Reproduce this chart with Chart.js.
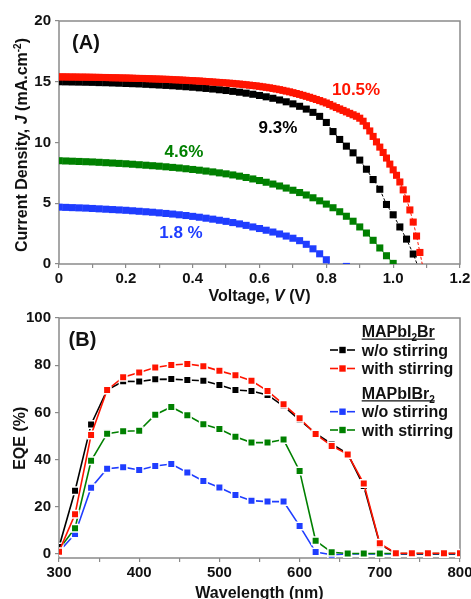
<!DOCTYPE html>
<html>
<head>
<meta charset="utf-8">
<script src="https://cdn.jsdelivr.net/npm/chart.js@4.4.1/dist/chart.umd.min.js"></script>
<style>
  html, body { margin: 0; padding: 0; background: #fff; overflow: hidden; }
  #jv { position: absolute; left: 0; top: 0; }
  #eqe { position: absolute; left: 0; top: 300px; }
</style>
</head>
<body>
<canvas id="jv" width="471" height="310"></canvas>
<canvas id="eqe" width="471" height="304"></canvas>
<script>
// ---- (A) J-V curves ----
const VOLTAGE = [0.00,0.02,0.04,0.06,0.08,0.10,0.12,0.14,0.16,0.18,0.20,0.22,0.24,0.26,0.28,0.30,0.32,0.34,0.36,0.38,
  0.40,0.42,0.44,0.46,0.48,0.50,0.52,0.54,0.56,0.58,0.60,0.62,0.64,0.66,0.68,0.70,0.72,0.74,0.76,0.78,
  0.80,0.82,0.84,0.86,0.88,0.90,0.92,0.94,0.96,0.98,1.00,1.02,1.04,1.06,1.08];
const VOLTAGE_FINE = [0.00,0.01,0.02,0.03,0.04,0.05,0.06,0.07,0.08,0.09,0.10,0.11,0.12,0.13,0.14,0.15,0.16,0.17,0.18,0.19,
  0.20,0.21,0.22,0.23,0.24,0.25,0.26,0.27,0.28,0.29,0.30,0.31,0.32,0.33,0.34,0.35,0.36,0.37,0.38,0.39,
  0.40,0.41,0.42,0.43,0.44,0.45,0.46,0.47,0.48,0.49,0.50,0.51,0.52,0.53,0.54,0.55,0.56,0.57,0.58,0.59,
  0.60,0.61,0.62,0.63,0.64,0.65,0.66,0.67,0.68,0.69,0.70,0.71,0.72,0.73,0.74,0.75,0.76,0.77,0.78,0.79,
  0.80,0.81,0.82,0.83,0.84,0.85,0.86,0.87,0.88,0.89,0.90,0.91,0.92,0.93,0.94,0.95,0.96,0.97,0.98,0.99,
  1.00,1.01,1.02,1.03,1.04,1.05,1.06,1.07,1.08,1.09];

// 10.5 % (red)
const J_RED = [15.40,15.40,15.40,15.39,15.39,15.39,15.38,15.38,15.38,15.37,
  15.37,15.36,15.36,15.35,15.35,15.34,15.33,15.33,15.32,15.31,
  15.31,15.30,15.29,15.28,15.27,15.27,15.26,15.25,15.24,15.23,
  15.22,15.21,15.20,15.19,15.17,15.16,15.15,15.13,15.12,15.10,
  15.09,15.07,15.06,15.04,15.02,15.00,14.98,14.96,14.94,14.92,
  14.90,14.88,14.86,14.83,14.81,14.78,14.75,14.72,14.69,14.66,
  14.62,14.58,14.54,14.50,14.45,14.40,14.35,14.29,14.23,14.17,
  14.10,14.03,13.96,13.88,13.80,13.72,13.63,13.54,13.45,13.35,
  13.25,13.13,13.00,12.88,12.76,12.64,12.52,12.40,12.28,12.16,
  12.00,11.75,11.38,10.95,10.50,10.05,9.62,9.18,8.72,8.22,
  7.75,7.30,6.75,6.10,5.35,4.45,3.45,2.30,0.95,-0.40];
// 9.3 % (black)
const J_BLACK = [15.00,14.99,14.98,14.97,14.96,14.95,14.93,14.92,14.90,14.88,
  14.86,14.84,14.82,14.79,14.76,14.73,14.70,14.67,14.63,14.59,
  14.55,14.50,14.45,14.40,14.34,14.28,14.21,14.14,14.06,13.97,
  13.87,13.76,13.64,13.50,13.35,13.18,12.98,12.75,12.48,12.15,
  11.65,10.90,10.25,9.70,9.15,8.55,7.80,6.95,6.15,4.90,
  4.05,3.05,2.05,0.82,-0.60];
// 4.6 % (green)
const J_GREEN = [8.50,8.48,8.46,8.44,8.42,8.40,8.37,8.34,8.31,8.28,
  8.25,8.21,8.17,8.13,8.09,8.05,8.00,7.95,7.90,7.84,
  7.78,7.72,7.65,7.58,7.50,7.42,7.33,7.23,7.12,7.00,
  6.87,6.73,6.58,6.42,6.25,6.07,5.88,5.68,5.45,5.20,
  4.93,4.63,4.30,3.93,3.52,3.05,2.55,1.95,1.32,0.68,0.05];
// 1.8 % (blue)
const J_BLUE = [4.68,4.66,4.64,4.62,4.60,4.57,4.54,4.51,4.48,4.45,
  4.42,4.38,4.34,4.30,4.26,4.21,4.16,4.11,4.05,3.99,
  3.92,3.85,3.77,3.69,3.60,3.51,3.41,3.30,3.18,3.05,
  2.92,2.78,2.63,2.47,2.30,2.12,1.92,1.62,1.25,0.84,
  0.35,-0.50,-0.60,-0.20];

const PCE_LABELS = ['10.5%', '9.3%', '4.6%', '1.8 %'];
const V_TICK_LABELS = ['0', '0.2', '0.4', '0.6', '0.8', '1.0', '1.2'];

// ---- (B) EQE spectra ----
const WAVELENGTH = [300,320,340,360,380,400,420,440,460,480,500,520,540,560,580,600,620,640,660,680,700,720,740,760,780,800];
const EQE_I2BR_WO   = [3.0,26.8,54.9,69.5,73.2,73.1,74.0,74.1,73.7,73.4,71.6,69.5,69.1,67.4,62.7,56.8,51.1,46.6,42.4,28.8,4.1,0.2,0.1,0.1,0.1,0.1];
const EQE_I2BR_WITH = [1.0,16.8,50.4,69.5,74.9,76.9,79.0,80.1,80.5,79.6,77.6,75.7,73.4,69.1,63.4,57.5,50.8,45.8,42.2,29.9,4.5,0.3,0.3,0.3,0.3,0.3];
const EQE_IBR2_WO   = [1.0,8.5,28.1,36.1,36.8,35.6,37.3,38.1,34.5,30.9,28.2,25.0,22.6,22.2,22.2,11.9,0.8,-0.3,0,0,0,0,0,0,0,0];
const EQE_IBR2_WITH = [2.0,10.9,39.5,51.0,52.0,52.2,59.0,62.3,58.8,55.0,53.0,49.7,47.2,47.2,48.5,35.2,5.6,0.7,0.2,0.2,0.2,0.2,0.2,0.2,0.2,0.2];
const EQE_TICKS = [0, 20, 40, 60, 80, 100];

const GROUP_NAMES = [
  [{t: 'MAPbI'}, {t: '2', sub: true}, {t: 'Br'}],
  [{t: 'MAPbIBr'}, {t: '2', sub: true}]
];
const SERIES_NAMES = ['w/o stirring', 'with stirring'];

const X_TITLE_A = [{t: 'Voltage, '}, {t: 'V', italic: true}, {t: ' (V)'}];
const Y_TITLE_A = [{t: 'Current Density, '}, {t: 'J', italic: true}, {t: ' (mA.cm'}, {t: '-2', sup: true}, {t: ')'}];
const X_TITLE_B = [{t: 'Wavelength (nm)'}];
const Y_TITLE_B = [{t: 'EQE (%)'}];

// colours
const RED = '#ff1400', BLACK = '#000000', GREEN = '#008000', BLUE = '#1f3dff';
const FONT = '"Liberation Sans", Arial, sans-serif';
const AXIS_GREY = '#8a8a8a';

function pairs(xs, ys) {
  return ys.map((y, i) => ({x: xs[i], y: y}));
}

// rich text: italic / superscript / subscript pieces
function drawRich(ctx, parts, x, y, size, rotate, align, color) {
  ctx.save();
  ctx.translate(x, y);
  if (rotate) ctx.rotate(-Math.PI / 2);
  ctx.textBaseline = 'alphabetic';
  ctx.textAlign = 'left';
  ctx.fillStyle = color || '#111';
  const fontOf = p => (p.italic ? 'italic ' : '') + 'bold ' +
    ((p.sup || p.sub) ? Math.round(size * 0.62) : size) + 'px ' + FONT;
  let total = 0;
  const w = parts.map(p => { ctx.font = fontOf(p); const m = ctx.measureText(p.t).width; total += m; return m; });
  let cx = align === 'left' ? 0 : -total / 2;
  parts.forEach((p, i) => {
    ctx.font = fontOf(p);
    const dy = p.sup ? -size * 0.36 : (p.sub ? size * 0.22 : 0);
    ctx.fillText(p.t, cx, dy);
    cx += w[i];
  });
  ctx.restore();
  return total;
}

const framePlugin = {
  id: 'frame',
  beforeDatasetsDraw(chart) {
    const {ctx, chartArea: a} = chart;
    ctx.save();
    ctx.strokeStyle = AXIS_GREY;
    ctx.lineWidth = 1.5;
    ctx.strokeRect(a.left, a.top, a.right - a.left, a.bottom - a.top);
    ctx.restore();
  }
};

function axisStyle() {
  return {
    grid: { drawOnChartArea: false, drawTicks: true, tickLength: 4, color: AXIS_GREY, lineWidth: 1.2 },
    border: { display: false },
    title: { display: false }
  };
}
const tickFont = { family: FONT, size: 15, weight: 'bold' };

// ---------- chart A ----------
function jvSet(xs, ys, color) {
  return {
    data: pairs(xs, ys),
    borderColor: color,
    backgroundColor: color,
    borderWidth: 1,
    borderDash: [3, 2],
    pointStyle: 'rect',
    pointRadius: 5,
    pointBorderWidth: 0,
    pointBackgroundColor: color,
    tension: 0,
    clip: 0
  };
}

const jvDecor = {
  id: 'jvDecor',
  afterDatasetsDraw(chart) {
    const {ctx, chartArea: a, scales: {x, y}} = chart;
    drawRich(ctx, X_TITLE_A, (a.left + a.right) / 2, 300.8, 16, false);
    drawRich(ctx, Y_TITLE_A, 26.5, 145, 16, true);

    ctx.save();
    ctx.fillStyle = '#111';
    ctx.font = 'bold 20px ' + FONT;
    ctx.textAlign = 'center';
    ctx.textBaseline = 'middle';
    ctx.fillText('(A)', a.left + 27, a.top + 22);

    // efficiency labels beside each curve
    const spots = [[0.889, 14.3, RED], [0.655, 11.2, BLACK], [0.374, 9.2, GREEN], [0.365, 2.55, BLUE]];
    ctx.font = 'bold 17px ' + FONT;
    PCE_LABELS.forEach((txt, i) => {
      ctx.fillStyle = spots[i][2];
      ctx.fillText(txt, x.getPixelForValue(spots[i][0]), y.getPixelForValue(spots[i][1]));
    });
    ctx.restore();
  }
};

new Chart(document.getElementById('jv'), {
  type: 'line',
  data: {
    datasets: [
      jvSet(VOLTAGE_FINE, J_RED, RED),
      jvSet(VOLTAGE, J_BLACK, BLACK),
      jvSet(VOLTAGE, J_GREEN, GREEN),
      jvSet(VOLTAGE, J_BLUE, BLUE)
    ]
  },
  options: {
    responsive: false,
    animation: false,
    events: [],
    layout: { padding: { top: 21, right: 11, left: 0, bottom: 0 } },
    plugins: { legend: { display: false }, tooltip: { enabled: false } },
    scales: {
      x: Object.assign(axisStyle(), {
        type: 'linear', min: 0, max: 1.2,
        afterFit: s => { s.height = 46; s.paddingLeft = 0; s.paddingRight = 0; },
        ticks: {
          stepSize: 0.1, autoSkip: false, maxRotation: 0, padding: 2,
          font: tickFont, color: '#111',
          callback: v => { const k = Math.round(v * 10); return k % 2 === 0 ? V_TICK_LABELS[k / 2] : ''; }
        }
      }),
      y: Object.assign(axisStyle(), {
        type: 'linear', min: 0, max: 20,
        afterFit: s => { s.width = 59; s.paddingTop = 0; s.paddingBottom = 0; },
        ticks: { stepSize: 5, padding: 4, font: tickFont, color: '#111' }
      })
    }
  },
  plugins: [framePlugin, jvDecor]
});

// ---------- chart B ----------
function eqeSet(ys, color, label) {
  return {
    label: label,
    data: pairs(WAVELENGTH, ys),
    borderColor: color,
    backgroundColor: color,
    borderWidth: 1.6,
    pointStyle: 'rect',
    pointRadius: 5.3,
    pointBorderWidth: 1.5,
    pointBorderColor: '#ffffff',
    pointBackgroundColor: color,
    tension: 0
  };
}

const eqeDecor = {
  id: 'eqeDecor',
  afterDatasetsDraw(chart) {
    const {ctx, chartArea: a} = chart;
    const ds = chart.data.datasets;
    drawRich(ctx, X_TITLE_B, (a.left + a.right) / 2, 297.5, 16, false);
    drawRich(ctx, Y_TITLE_B, 24.5, 138.3, 16, true);

    ctx.save();
    ctx.fillStyle = '#111';
    ctx.font = 'bold 20px ' + FONT;
    ctx.textAlign = 'center';
    ctx.textBaseline = 'middle';
    ctx.fillText('(B)', a.left + 23.5, a.top + 22);
    ctx.restore();

    // legend with underlined group headings
    const textX = a.right - 98.3;
    const lineX0 = a.right - 130, lineX1 = a.right - 105;
    const rows = [
      {head: 0, dy: 13.7},
      {ds: 1, dy: 32},
      {ds: 0, dy: 50.5},
      {head: 1, dy: 75.3},
      {ds: 3, dy: 93.7},
      {ds: 2, dy: 112}
    ];
    rows.forEach(r => {
      const cy = a.top + r.dy;
      const base = cy + 5.7;
      if (r.head !== undefined) {
        const w = drawRich(ctx, GROUP_NAMES[r.head], textX, base, 16, false, 'left');
        ctx.save();
        ctx.strokeStyle = '#111';
        ctx.lineWidth = 1.3;
        ctx.beginPath();
        ctx.moveTo(textX, base + 1.8);
        ctx.lineTo(textX + w, base + 1.8);
        ctx.stroke();
        ctx.restore();
      } else {
        const d = ds[r.ds];
        ctx.save();
        ctx.strokeStyle = d.borderColor;
        ctx.lineWidth = 1.6;
        ctx.beginPath();
        ctx.moveTo(lineX0, cy);
        ctx.lineTo(lineX1, cy);
        ctx.stroke();
        const mx = (lineX0 + lineX1) / 2;
        ctx.fillStyle = '#fff';
        ctx.fillRect(mx - 4.5, cy - 4.5, 9, 9);
        ctx.fillStyle = d.borderColor;
        ctx.fillRect(mx - 3.2, cy - 3.2, 6.4, 6.4);
        ctx.restore();
        drawRich(ctx, [{t: d.label}], textX, base, 16, false, 'left');
      }
    });
  }
};

new Chart(document.getElementById('eqe'), {
  type: 'line',
  data: {
    datasets: [
      eqeSet(EQE_I2BR_WITH, RED, SERIES_NAMES[1]),
      eqeSet(EQE_I2BR_WO, BLACK, SERIES_NAMES[0]),
      eqeSet(EQE_IBR2_WITH, GREEN, SERIES_NAMES[1]),
      eqeSet(EQE_IBR2_WO, BLUE, SERIES_NAMES[0])
    ]
  },
  options: {
    responsive: false,
    animation: false,
    events: [],
    layout: { padding: { top: 18, right: 11, left: 0, bottom: 0 } },
    plugins: { legend: { display: false }, tooltip: { enabled: false } },
    scales: {
      x: Object.assign(axisStyle(), {
        type: 'linear', min: 300, max: 800,
        afterFit: s => { s.height = 46; s.paddingLeft = 0; s.paddingRight = 0; },
        ticks: {
          stepSize: 50, autoSkip: false, maxRotation: 0, padding: 2,
          font: tickFont, color: '#111',
          callback: v => (v % 100 === 0 ? String(v) : '')
        }
      }),
      y: Object.assign(axisStyle(), {
        type: 'linear', min: -1.7, max: 100,
        afterFit: s => { s.width = 59; s.paddingTop = 0; s.paddingBottom = 0; },
        afterBuildTicks: s => { s.ticks = EQE_TICKS.map(v => ({value: v})); },
        ticks: { padding: 4, font: tickFont, color: '#111' }
      })
    }
  },
  plugins: [framePlugin, eqeDecor]
});
</script>
</body>
</html>
